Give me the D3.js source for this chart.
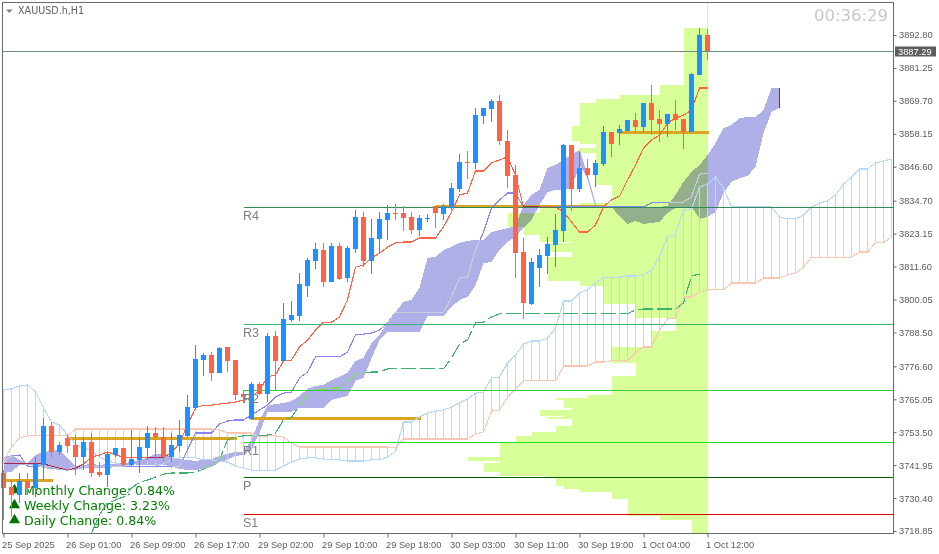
<!DOCTYPE html>
<html><head><meta charset="utf-8">
<script src="https://cdn.jsdelivr.net/npm/d3@7/dist/d3.min.js"></script>
<style>
html,body{margin:0;padding:0;background:#fff;overflow:hidden}
svg{display:block;background:#fff}
.tick text{font-family:"Liberation Sans",sans-serif;font-size:9.3px;fill:#5c5c5c}
.tick line{stroke:#666}
</style></head><body>
<svg id="c" width="939" height="554"></svg>
<script>
const symbol="XAUUSD.h,H1", timer="00:36:29", lastPrice=3887.29;
const priceTicks=[3892.80,3881.25,3869.70,3858.15,3846.60,3834.70,3823.15,3811.60,3800.05,3788.50,3776.60,3765.05,3753.50,3741.95,3730.40,3718.85];
const timeTickIdx=[0,8,16,24,32,40,48,56,64,72,80,88];
const timeTickLabels=["25 Sep 2025","26 Sep 01:00","26 Sep 09:00","26 Sep 17:00","29 Sep 02:00","29 Sep 10:00","29 Sep 18:00","30 Sep 03:00","30 Sep 11:00","30 Sep 19:00","1 Oct 04:00","1 Oct 12:00"];
const open=[3739.2,3734.3,3731.5,3736.4,3733.9,3742.0,3755.7,3746.6,3751.5,3749.0,3744.8,3750.1,3739.5,3738.5,3745.5,3748.0,3742.0,3743.8,3748.0,3753.2,3751.8,3744.8,3748.7,3752.2,3761.9,3778.8,3780.6,3774.3,3783.4,3778.8,3766.9,3758.1,3770.4,3766.9,3787.2,3778.5,3792.8,3794.2,3804.8,3813.5,3817.4,3806.2,3818.8,3807.6,3817.7,3829.0,3813.5,3821.3,3827.9,3830.4,3830.4,3829.0,3824.4,3828.3,3832.8,3830.0,3832.1,3838.8,3848.3,3847.9,3864.4,3866.8,3869.6,3855.6,3843.7,3816.7,3798.5,3811.1,3815.3,3819.1,3824.1,3854.2,3838.8,3846.2,3843.7,3847.6,3858.8,3858.4,3859.1,3863.0,3860.5,3868.9,3863.3,3861.6,3865.1,3863.3,3858.8,3878.8,3892.8];
const high=[3740.2,3736.7,3739.2,3739.2,3744.8,3758.5,3757.1,3750.1,3752.5,3752.5,3751.5,3753.2,3743.0,3746.6,3748.0,3748.0,3754.3,3751.5,3755.7,3755.3,3755.3,3753.2,3757.8,3766.5,3784.1,3781.3,3781.6,3783.4,3783.4,3778.8,3768.3,3771.1,3771.1,3788.3,3789.0,3798.8,3799.5,3809.3,3814.6,3819.9,3819.9,3819.9,3819.9,3818.8,3831.4,3830.7,3828.3,3830.7,3833.2,3833.5,3832.8,3830.7,3829.7,3830.0,3832.8,3833.5,3840.9,3851.1,3852.1,3867.2,3867.2,3870.4,3871.8,3859.5,3847.2,3821.6,3814.6,3817.7,3822.0,3830.0,3854.6,3854.2,3851.8,3849.3,3849.0,3860.9,3858.8,3861.2,3863.0,3865.4,3868.9,3875.3,3866.5,3865.1,3870.0,3863.3,3879.5,3895.3,3894.9];
const low=[3722.7,3723.8,3728.7,3731.5,3730.8,3736.7,3744.8,3745.5,3746.2,3738.5,3740.2,3737.8,3737.8,3734.3,3744.8,3741.3,3741.3,3739.2,3743.8,3743.8,3743.0,3743.0,3746.6,3751.8,3761.3,3773.2,3771.5,3774.3,3774.6,3764.8,3763.7,3757.8,3766.5,3764.1,3768.3,3778.1,3792.1,3792.5,3800.9,3810.7,3804.4,3806.2,3806.9,3806.2,3816.3,3811.4,3809.0,3816.3,3820.9,3827.9,3824.1,3823.0,3822.3,3827.2,3825.1,3827.9,3831.4,3837.7,3842.3,3845.8,3861.6,3862.3,3854.2,3839.1,3807.6,3793.2,3798.1,3804.4,3809.0,3811.4,3820.2,3831.1,3837.7,3842.3,3839.5,3846.9,3850.0,3854.2,3859.1,3858.4,3858.8,3857.7,3855.3,3857.0,3859.5,3852.8,3858.8,3878.8,3884.0];
const close=[3733.9,3731.5,3736.4,3733.9,3742.4,3755.7,3746.6,3749.0,3748.7,3744.8,3750.1,3739.2,3738.5,3745.9,3748.0,3742.0,3744.1,3748.3,3753.2,3751.8,3744.8,3749.0,3752.5,3762.3,3779.2,3780.6,3774.3,3783.0,3778.5,3766.5,3765.8,3770.4,3766.9,3787.2,3778.5,3793.2,3794.6,3805.5,3813.9,3817.7,3806.2,3818.8,3807.2,3818.1,3829.0,3813.5,3821.6,3828.3,3830.4,3830.0,3828.6,3824.4,3828.6,3828.6,3830.4,3832.8,3839.1,3848.3,3847.9,3864.7,3867.2,3869.6,3855.6,3843.4,3816.3,3798.8,3813.2,3815.6,3819.5,3824.4,3854.2,3838.8,3846.2,3843.7,3847.9,3858.8,3854.6,3859.8,3863.0,3860.5,3868.9,3863.0,3861.6,3865.1,3863.0,3858.8,3879.1,3892.8,3887.29];
const tenkan=[3742.4,3742.4,3742.4,3742.4,3742.4,3742.4,3741.6,3740.9,3740.2,3740.9,3742.4,3744.8,3745.5,3746.6,3745.5,3744.8,3744.5,3744.5,3744.5,3744.5,3744.8,3746.2,3749.7,3756.0,3762.0,3763.0,3763.0,3763.4,3763.7,3764.1,3764.8,3765.8,3768.3,3772.9,3773.6,3778.5,3778.8,3783.4,3785.8,3789.3,3792.1,3792.1,3793.9,3799.9,3811.4,3812.1,3814.6,3816.3,3818.4,3819.9,3820.2,3820.2,3821.6,3821.6,3821.6,3825.5,3830.7,3836.7,3837.4,3845.1,3845.1,3847.9,3849.0,3850.0,3843.7,3832.5,3832.5,3832.5,3832.5,3832.5,3830.7,3827.2,3823.7,3823.7,3826.2,3832.5,3835.0,3836.3,3841.9,3847.2,3853.2,3856.0,3857.7,3861.9,3863.7,3864.7,3866.5,3874.2,3874.2];
const kijun=[3742.7,3745.2,3745.5,3741.6,3741.6,3741.6,3741.6,3740.6,3740.2,3741.6,3741.6,3741.6,3741.6,3741.6,3741.6,3741.6,3741.6,3741.6,3741.6,3741.6,3741.6,3741.3,3741.6,3747.3,3753.2,3753.2,3753.2,3756.4,3757.4,3757.8,3757.8,3759.5,3761.3,3763.0,3765.8,3767.2,3767.6,3772.5,3774.6,3779.9,3779.9,3779.9,3779.9,3781.6,3787.6,3787.9,3788.3,3789.3,3791.8,3795.6,3795.6,3795.6,3795.6,3795.6,3795.6,3795.6,3800.9,3807.6,3807.9,3817.4,3823.7,3832.1,3834.9,3837.4,3837.4,3832.5,3832.5,3832.5,3832.5,3832.5,3832.5,3832.5,3832.5,3832.5,3832.5,3832.5,3832.5,3832.5,3832.5,3832.5,3832.5,3833.9,3834.2,3834.2,3834.2,3834.2,3836.0,3844.0,3844.4];
const chikouStart=11;
const chikou=[3718.1,3724.5,3728.7,3729.7,3730.8,3733.9,3736.0,3736.7,3737.8,3738.8,3739.2,3739.2,3739.2,3739.5,3740.6,3742.0,3743.8,3750.8,3751.8,3752.2,3752.2,3752.2,3752.5,3753.2,3757.8,3758.8,3763.0,3766.2,3768.3,3768.6,3769.0,3769.0,3771.1,3773.9,3774.3,3774.6,3774.6,3775.7,3775.7,3775.7,3775.7,3775.7,3775.7,3775.7,3775.7,3779.5,3784.4,3785.8,3791.8,3792.1,3793.9,3795.0,3795.0,3795.0,3795.0,3795.0,3795.0,3795.0,3795.0,3795.0,3795.0,3795.0,3795.0,3795.0,3795.0,3795.0,3795.0,3795.0,3796.4,3796.7,3796.7,3796.7,3796.7,3796.7,3798.8,3808.3,3809.0];
const spanA=[3768.3,3768.7,3769.7,3770.1,3767.6,3762.0,3757.1,3756.0,3752.5,3749.4,3748.0,3746.9,3744.8,3743.4,3742.7,3742.0,3741.6,3741.6,3741.6,3741.6,3742.4,3743.8,3744.5,3744.5,3744.5,3743.8,3743.8,3743.4,3743.0,3741.6,3740.9,3740.2,3740.2,3740.2,3740.2,3741.6,3743.0,3744.1,3744.5,3744.5,3744.1,3743.8,3743.8,3743.4,3743.4,3743.4,3743.8,3743.8,3744.8,3746.9,3757.1,3757.1,3758.8,3760.2,3760.9,3761.3,3762.3,3763.7,3765.1,3767.2,3767.6,3772.5,3772.9,3777.8,3780.6,3784.4,3785.5,3785.5,3786.5,3790.0,3799.5,3799.5,3802.3,3803.4,3805.8,3807.9,3807.9,3807.9,3808.3,3808.3,3808.6,3810.4,3814.9,3822.0,3822.7,3831.4,3831.8,3839.5,3840.5,3843.0,3839.1,3832.5,3832.5,3832.5,3832.5,3832.5,3832.5,3829.0,3828.3,3828.3,3829.7,3832.5,3833.9,3834.6,3836.7,3840.5,3843.0,3845.8,3845.8,3847.9,3848.6,3849.3];
const spanB=[3743.4,3748.3,3751.5,3752.2,3752.2,3752.2,3752.2,3752.2,3752.2,3754.6,3754.6,3754.6,3754.6,3754.6,3754.6,3754.6,3754.6,3754.6,3754.6,3754.6,3754.6,3754.6,3754.6,3754.6,3754.6,3754.6,3754.6,3754.3,3753.2,3753.2,3753.2,3753.2,3751.8,3752.2,3752.2,3751.8,3749.7,3748.3,3748.3,3748.3,3748.3,3748.3,3748.3,3748.3,3748.3,3748.3,3748.3,3748.3,3748.3,3748.0,3751.1,3751.1,3751.1,3751.1,3751.1,3751.1,3751.1,3751.1,3751.1,3752.9,3753.6,3760.9,3761.3,3765.8,3768.6,3771.5,3771.5,3771.5,3771.5,3771.5,3776.7,3776.7,3776.7,3776.7,3778.1,3778.1,3778.5,3778.5,3778.5,3781.3,3783.4,3783.4,3789.3,3793.2,3793.5,3800.9,3800.9,3802.7,3803.4,3803.4,3803.4,3805.8,3805.8,3805.8,3805.8,3807.6,3807.6,3807.6,3808.6,3809.3,3811.4,3814.9,3814.9,3814.9,3814.9,3814.9,3814.9,3816.7,3816.7,3819.9,3819.9,3822.0];
const cloudTop=[3744.8,3745.5,3743.8,3742.7,3745.5,3746.6,3746.9,3747.3,3744.5,3741.6,3742.0,3742.4,3742.0,3742.4,3742.4,3742.7,3743.0,3743.8,3744.5,3745.9,3745.9,3744.5,3744.1,3743.8,3743.4,3743.8,3744.1,3745.2,3745.9,3746.6,3746.6,3750.8,3757.8,3762.7,3763.4,3763.7,3764.4,3766.2,3768.7,3769.7,3770.1,3771.8,3772.9,3774.3,3778.5,3779.5,3784.8,3787.6,3791.8,3795.7,3799.2,3799.9,3804.1,3814.6,3815.0,3817.4,3818.5,3819.9,3820.6,3820.9,3820.9,3823.7,3824.4,3825.1,3825.8,3833.2,3836.7,3838.5,3846.2,3847.2,3849.0,3850.7,3852.5,3843.0,3832.9,3832.5,3832.5,3832.5,3832.5,3832.5,3832.5,3832.5,3832.5,3832.9,3836.7,3841.3,3844.8,3847.2,3850.7,3854.9,3860.2,3861.2,3863.7,3864.0,3864.0,3866.5,3874.2,3874.2];
const cloudBottom=[3739.2,3739.6,3742.0,3742.0,3742.0,3740.9,3740.6,3740.3,3740.3,3740.3,3740.9,3740.9,3740.9,3740.9,3741.3,3741.3,3742.4,3742.0,3742.0,3742.0,3742.0,3741.6,3740.6,3740.3,3740.3,3740.6,3741.3,3743.0,3743.8,3745.2,3745.5,3747.3,3753.2,3760.6,3760.6,3760.6,3760.6,3762.0,3762.0,3762.0,3762.0,3764.8,3765.5,3766.2,3771.5,3772.5,3779.5,3785.8,3788.6,3788.6,3788.6,3788.6,3788.6,3794.3,3794.3,3794.3,3797.4,3799.9,3800.9,3805.1,3812.8,3813.2,3817.4,3820.2,3822.0,3825.1,3827.9,3833.2,3837.7,3838.5,3838.5,3839.1,3847.2,3843.0,3832.9,3832.5,3832.5,3829.3,3826.5,3827.6,3826.5,3826.9,3827.2,3830.4,3832.1,3832.5,3832.5,3828.3,3829.0,3830.7,3837.4,3841.3,3842.6,3843.4,3846.5,3858.4,3865.8,3867.2];
const tailIdx=[72,73,74];
const tailPrice=[3852.0,3843.0,3833.2];
const profileTop=[3895.3,3875.3,3871.8,3870.4,3868.9,3860.9,3855.6,3854.6,3853.2,3851.4,3840.2,3833.9,3832.5,3830.4,3825.5,3822.7,3820.2,3819.9,3816.7,3815.0,3806.5,3804.8,3798.5,3793.5,3788.9,3783.4,3777.8,3773.2,3766.5,3765.5,3764.8,3762.0,3761.3,3759.2,3758.8,3758.1,3755.7,3753.6,3752.2,3750.1,3744.8,3743.4,3742.7,3739.5,3738.1,3737.4,3734.6,3733.6,3732.5,3730.0,3724.1,3722.7];
const profileVol=[3,6,11,14,16,17,16,14,16,14,12,16,21,25,23,21,17,20,17,20,16,13,9,4,7,12,9,12,15,19,18,17,21,18,20,17,19,22,24,26,30,26,28,26,20,19,18,16,12,10,6,2];
const profileBottom=3718.2;
const goldPrice=[3736.7,3751.5,3758.5,3832.8,3858.8];
const goldFrom=[0,8,31,54,77];
const goldTo=[6,29,52,75,88];
const pivotNames=["R4","R3","R2","R1","P","S1"];
const pivotPrice=[3832.5,3791.4,3768.3,3750.1,3737.8,3724.8];
const pivotColor=["#2e8b57","#3cb371","#32cd32","#22dd22","#006400","#e00000"];
const changeNames=["Monthly Change: 0.84%","Weekly Change: 3.23%","Daily Change: 0.84%"];

const C={up:"#1e90ff",down:"#ff6347",green:"#d7fe99",cloud:"#b0b0e8",a:"#b7d8fa",b:"#f8c8b2",gold:"#daa520"};
const LW=1.15;
const svg=d3.select("#c");
const x=d3.scaleLinear().domain([0,88]).range([3.5,707.5]);
const y=d3.scaleLinear().domain([3718.85,3892.8]).range([531,35]);
const vol=d3.scaleLinear().domain([0,88]).range([708,4]);
const bars=d3.range(open.length);
const rp=v=>Math.round(y(v));
const plot=svg.append("g");
const line=()=>d3.line().x(d=>x(d.i)).y(d=>y(d.v));
const series=(arr,start=0)=>arr.map((v,k)=>({i:k+start,v}));

// volume profile
plot.append("line").attr("x1",707.5).attr("x2",707.5).attr("y1",3).attr("y2",y(3895.3)).attr("stroke",C.green);
plot.append("g").attr("shape-rendering","crispEdges").selectAll("rect").data(profileTop).join("rect")
 .attr("x",(d,k)=>vol(profileVol[k])).attr("width",(d,k)=>708-vol(profileVol[k]))
 .attr("y",d=>rp(d)).attr("height",(d,k)=>rp(k+1<profileTop.length?profileTop[k+1]:profileBottom)-rp(d))
 .attr("fill",C.green);

// cloud
const cloudArea=d3.area().x((d,k)=>x(k)).y0((d,k)=>y(cloudBottom[k])).y1(d=>y(d));
plot.append("path").attr("d",cloudArea(cloudTop)).attr("fill",C.cloud).style("mix-blend-mode","multiply").attr("shape-rendering","crispEdges");
svg.append("clipPath").attr("id","cc").append("path").attr("d",cloudArea(cloudTop));
plot.append("path").attr("d",d3.line().x((d,k)=>x(tailIdx[k])).y(d=>y(d))(tailPrice)).attr("fill","none").attr("stroke","#a8a8e8").attr("stroke-width",1.2);
plot.append("line").attr("x1",x(97)).attr("x2",x(97)).attr("y1",y(cloudTop[97])).attr("y2",y(cloudBottom[97])).attr("stroke","#4a4a2a");

// ichimoku hatch
plot.append("g").attr("shape-rendering","crispEdges").selectAll("line").data(spanA).join("line")
 .attr("x1",(d,k)=>x(k)).attr("x2",(d,k)=>x(k)).attr("y1",d=>y(d)).attr("y2",(d,k)=>y(spanB[k]))
 .attr("stroke",(d,k)=>d>spanB[k]?C.a:C.b).attr("stroke-width",1.2);

// gold levels
plot.append("g").attr("shape-rendering","crispEdges").selectAll("rect").data(goldPrice).join("rect")
 .attr("x",(d,k)=>x(goldFrom[k])).attr("width",(d,k)=>x(goldTo[k])-x(goldFrom[k])+1)
 .attr("y",d=>rp(d)-1).attr("height",3).attr("fill",C.gold);

// legend under the lines
const leg=plot.append("g");
changeNames.forEach((t,k)=>{
 leg.append("path").attr("d",d3.symbol(d3.symbolTriangle,52)()).attr("transform",`translate(14.5,${490+k*15})`).attr("fill","#007000");
 leg.append("text").attr("x",24).attr("y",495+k*15).text(t).attr("font-family","DejaVu Sans").attr("font-size",12.6).attr("fill","#008000");
});

// lines
const lg=plot.append("g").attr("fill","none").attr("shape-rendering","crispEdges").attr("stroke-width",LW);
const L=line();
lg.append("path").attr("d",L(series(spanA))).attr("stroke",C.a);
lg.append("path").attr("d",L(series(spanB))).attr("stroke",C.b);
lg.append("path").attr("d",L(series(chikou,chikouStart))).attr("stroke","#3cb371").attr("stroke-dasharray","15 4");
lg.append("path").attr("d",L(series(kijun))).attr("stroke","#8a84f4");
lg.append("path").attr("d",L(series(tenkan))).attr("stroke",C.down);
const lc=plot.append("g").attr("fill","none").attr("shape-rendering","crispEdges").attr("stroke-width",LW).attr("clip-path","url(#cc)");
lc.append("path").attr("d",L(series(chikou,chikouStart))).attr("stroke","#7cdc62").attr("stroke-dasharray","15 4");
lc.append("path").attr("d",L(series(kijun))).attr("stroke","#ccccdd");
lc.append("path").attr("d",L(series(tenkan))).attr("stroke","#a8284a");

// horizontal levels
const hl=plot.append("g").attr("shape-rendering","crispEdges");
hl.selectAll("line").data(pivotPrice).join("line")
 .attr("x1",x(30)).attr("x2",893).attr("y1",d=>rp(d)+.5).attr("y2",d=>rp(d)+.5)
 .attr("stroke",(d,k)=>pivotColor[k]);
plot.append("line").attr("x1",3).attr("x2",893).attr("y1",rp(lastPrice)+.5).attr("y2",rp(lastPrice)+.5).attr("stroke","#6f8a80").attr("shape-rendering","crispEdges");

// candles
const cg=plot.append("g").attr("shape-rendering","crispEdges");
const col=i=>close[i]>=open[i]?C.up:C.down;
cg.selectAll("line").data(bars).join("line").attr("x1",x).attr("x2",x).attr("y1",i=>y(high[i])).attr("y2",i=>y(low[i])).attr("stroke",col);
cg.selectAll("rect").data(bars).join("rect").attr("x",i=>x(i)-2.5).attr("width",5)
 .attr("y",i=>rp(Math.max(open[i],close[i]))).attr("height",i=>Math.max(1,rp(Math.min(open[i],close[i]))-rp(Math.max(open[i],close[i]))))
 .attr("fill",col);

// pivot labels
svg.append("g").selectAll("text").data(pivotNames).join("text").attr("x",243).attr("y",(d,k)=>rp(pivotPrice[k])+13).text(d=>d)
 .attr("font-family","Liberation Sans").attr("font-size",12.5).attr("fill","#808080");

// frame + axes
svg.append("rect").attr("x",2.5).attr("y",2.5).attr("width",891).attr("height",531).attr("fill","none").attr("stroke","#6a6a6a").attr("shape-rendering","crispEdges");
const ay=svg.append("g").attr("transform","translate(893.5,0)").call(d3.axisRight(y).tickValues(priceTicks).tickFormat(d3.format(".2f")).tickSize(3).tickPadding(2.5));
ay.select(".domain").remove();
const ax=svg.append("g").attr("transform","translate(0,533.5)").call(d3.axisBottom(x).tickValues(timeTickIdx).tickFormat((d,k)=>timeTickLabels[k]).tickSize(4).tickPadding(4));
ax.select(".domain").remove();
ax.selectAll("text").attr("text-anchor","start").attr("dx",-2);

// price tag
svg.append("rect").attr("x",895).attr("y",rp(lastPrice)-4.5).attr("width",41).attr("height",10).attr("fill","#5e5e5e");
svg.append("text").attr("x",898).attr("y",rp(lastPrice)+3.5).text(lastPrice.toFixed(2)).attr("font-family","Liberation Sans").attr("font-size",9.3).attr("fill","#fff");

// header
svg.append("path").attr("d","M6 9.5L12.5 9.5L9.25 13Z").attr("fill","#808080");
svg.append("text").attr("x",18).attr("y",13.5).text(symbol).attr("font-family","DejaVu Sans").attr("font-size",9.6).attr("fill","#606060");
svg.append("text").attr("x",814).attr("y",21).text(timer).attr("font-family","DejaVu Sans").attr("font-size",16.5).attr("fill","#c8c8c8");
</script></body></html>
